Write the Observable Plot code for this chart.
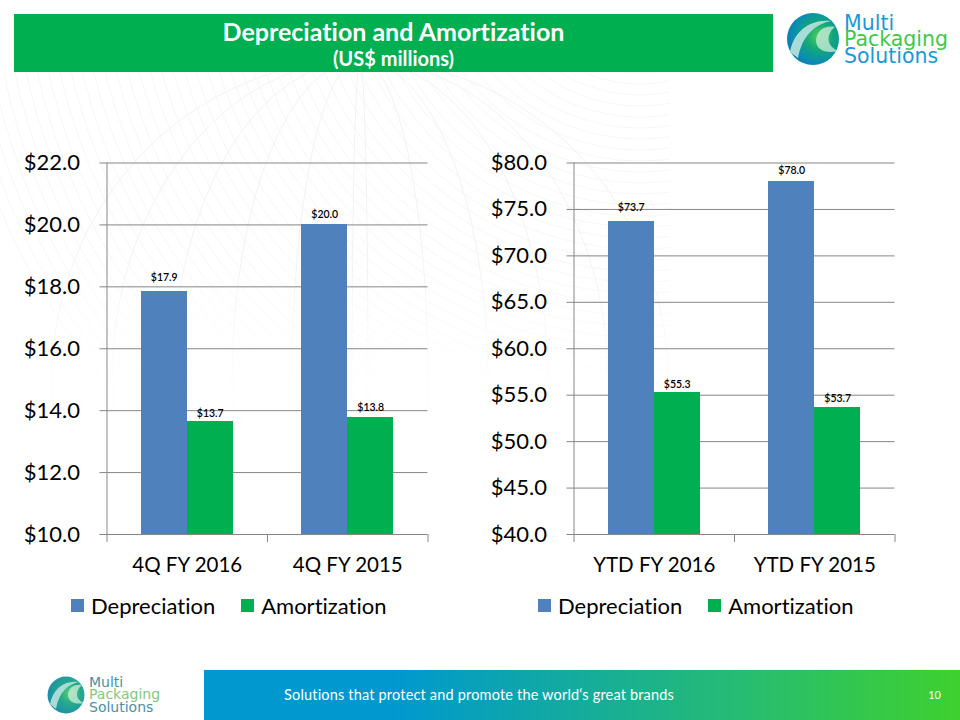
<!DOCTYPE html>
<html><head><meta charset="utf-8">
<script src="https://cdn.jsdelivr.net/npm/d3@7"></script>
<script src="https://cdn.jsdelivr.net/npm/@observablehq/plot@0.6"></script>
<style>
html,body{margin:0;padding:0;background:#fff}
#page{position:relative;width:960px;height:720px;overflow:hidden;font-family:Lato,sans-serif;color:#000;font-variant-ligatures:none}
#page>*{position:absolute}
#head{left:14px;top:14px;width:759px;height:58px;background:#00b050;color:#fff;text-align:center;font-weight:700}
#head .t{font-size:25px;line-height:28px;margin-top:3px}
#head .s{font-size:20px;line-height:24px;margin-top:1px}
#foot{left:204px;top:670px;width:756px;height:50px;background:linear-gradient(90deg,#0098cf 0%,#0098cf 25%,#27bd70 72%,#3fd02e 100%);color:#fff}
#foot .c{position:absolute;left:80px;top:16px;font-size:14.5px;letter-spacing:.18px}
#foot .n{position:absolute;right:19px;top:18px;font-size:11px}
.legend{display:flex;align-items:center;font-size:22px;height:26px}
.legend i{display:inline-block;width:13px;height:13px;margin-right:7px}
.legend span{margin-right:26px}
svg.plot text,svg text{font-variant-ligatures:none}
</style></head><body><div id="page">
<svg id="bg" width="960" height="720" style="left:0;top:0">
<defs><linearGradient id="fadeG" x1="0" y1="0" x2="0" y2="1"><stop offset="0" stop-color="#fff"/><stop offset=".45" stop-color="#fff"/><stop offset=".85" stop-color="#000"/></linearGradient>
<mask id="fade" maskUnits="userSpaceOnUse" x="0" y="72" width="670" height="400"><rect x="0" y="72" width="670" height="400" fill="url(#fadeG)"/></mask></defs>
<g mask="url(#fade)"><g id="arcs" fill="none" stroke="#f1f2f4" stroke-width="1"></g></g></svg>
<div id="head"><div class="t">Depreciation and Amortization</div><div class="s">(US$ millions)</div></div>
<div id="foot"><div class="c">Solutions that protect and promote the world‘s great brands</div><div class="n">10</div></div>
<svg id="logos" width="960" height="720" style="left:0;top:0">
<defs>
<radialGradient id="lg" cx=".62" cy=".45" r=".68"><stop offset="0" stop-color="#4fd05a"/><stop offset=".38" stop-color="#12a878"/><stop offset=".75" stop-color="#0a8cb4"/><stop offset="1" stop-color="#0b78a8"/></radialGradient>
<radialGradient id="lg2" cx=".62" cy=".45" r=".68"><stop offset="0" stop-color="#60d06c"/><stop offset=".4" stop-color="#24ac8a"/><stop offset="1" stop-color="#1c88b0"/></radialGradient>
</defs>
<g id="logoA" font-family="'DejaVu Sans',sans-serif">
<circle cx="813" cy="39" r="26" fill="url(#lg)"/>
<path d="M790 52C794 31 810 19 831 21C815 24 802 36 798 58Z" fill="#a9dcd6"/>
<path d="M816 40C817 30 825 25 835 27C829 31 823 44 838 51C826 54 816 50 816 40Z" fill="#c5ead9" opacity=".8"/>
<text x="844" y="30" font-size="20.5" fill="#1b98d5">Multi</text><text x="844" y="46" font-size="20.5" fill="#3fc84a">Packaging</text><text x="844" y="63" font-size="20.5" fill="#1b98d5">Solutions</text></g>
<g id="logoB" font-family="'DejaVu Sans',sans-serif">
<circle cx="66" cy="695" r="18.5" fill="url(#lg2)"/>
<path d="M50 704C53 689 64 680 79 682C68 684 59 692 56 709Z" fill="#a9dcd6"/>
<path d="M68 694C69 687 75 684 82 685C77 689 73 698 84 703C75 705 68 702 68 694Z" fill="#c5ead9" opacity=".8"/>
<text x="89" y="687" font-size="14" fill="#4a90a4">Multi</text><text x="89" y="699" font-size="14" fill="#82c87e">Packaging</text><text x="89" y="712" font-size="14" fill="#4a90a4">Solutions</text></g>
</svg>
<div id="chartA" style="left:0;top:0"></div><div id="chartB" style="left:467px;top:0"></div>
<div class="legend" style="left:71px;top:592px"><i style="background:#4f81bd"></i><span>Depreciation</span><i style="background:#00b050"></i><span>Amortization</span></div>
<div class="legend" style="left:538px;top:592px"><i style="background:#4f81bd"></i><span>Depreciation</span><i style="background:#00b050"></i><span>Amortization</span></div>
</div>
<script>
const seriesNames = ["Depreciation", "Amortization"];
const colors = ["#4f81bd", "#00b050"];
const quarterCategories = ["4Q FY 2016", "4Q FY 2015"];
const quarterDepreciation = [17.85, 20.0];
const quarterAmortization = [13.65, 13.78];
const quarterLabels = [["$17.9", "$20.0"], ["$13.7", "$13.8"]];
const quarterTicks = [10, 12, 14, 16, 18, 20, 22];
const ytdCategories = ["YTD FY 2016", "YTD FY 2015"];
const ytdDepreciation = [73.7, 78.0];
const ytdAmortization = [55.3, 53.7];
const ytdLabels = [["$73.7", "$78.0"], ["$55.3", "$53.7"]];
const ytdTicks = [40, 45, 50, 55, 60, 65, 70, 75, 80];
// how far each value label sits above its bar, as placed in the original
const quarterLabelGaps = [[14, 10], [8, 10]];
const ytdLabelGaps = [[14, 11], [8, 9]];

// faint decorative globe behind the charts
const arcs = d3.select("#arcs");
for (let r = 40; r <= 640; r += 11) arcs.append("circle").attr("cx", 640).attr("cy", -60).attr("r", r + 60).attr("opacity", 0.7);
for (let k = 0; k <= 5; k++) arcs.append("ellipse").attr("cx", 360).attr("cy", 380).attr("rx", k * 60 + 8).attr("ry", 320);

function chart(cats, dep, amo, labels, gaps, ticks) {
  const bw = 0.2866, start = 0.2134;
  const rows = [];
  [dep, amo].forEach((vals, s) => vals.forEach((v, i) => rows.push({
    x1: i + start + s * bw, x2: i + start + (s + 1) * bw, xm: i + start + (s + .5) * bw,
    v, s: seriesNames[s], label: labels[s][i], gap: gaps[s][i]
  })));
  const line = "#868686";
  const labelMarks = d3.rollups(rows, g => g, d => d.gap).map(([gap, g]) =>
    Plot.text(g, {x: "xm", y: "v", text: "label", dy: -gap, fontSize: 10.5, fontWeight: 600, fill: "#000"}));
  return Plot.plot({
    width: 440, height: 600,
    marginLeft: 106.5, marginRight: 12.5, marginTop: 162.5, marginBottom: 66,
    x: {domain: [0, 2], axis: null},
    y: {domain: [ticks[0], ticks[ticks.length - 1]], axis: null},
    color: {domain: seriesNames, range: colors},
    style: {background: "transparent", overflow: "visible", fontFamily: "Lato,sans-serif"},
    marks: [
      Plot.ruleY(ticks, {x1: -0.0436, x2: 2, stroke: line, strokeWidth: 1}),
      Plot.ruleX([0], {stroke: line}),
      Plot.rectY(rows, {x1: "x1", x2: "x2", y1: ticks[0], y2: "v", fill: "s", shapeRendering: "crispEdges"}),
      ...labelMarks,
      Plot.axisX([0, 1, 2], {anchor: "bottom", tickSize: 8, tickFormat: () => "", stroke: line, label: null}),
      Plot.axisX([0.5, 1.5], {anchor: "bottom", tickSize: 0, tickPadding: 23, tickFormat: d => cats[Math.floor(d)], fontSize: 20.5, fill: "#000", label: null}),
      Plot.axisY(ticks, {anchor: "left", tickSize: 0, tickPadding: 27, tickFormat: d => "$" + d.toFixed(1), fontSize: 22, fill: "#000", label: null})
    ]
  });
}
document.getElementById("chartA").append(chart(quarterCategories, quarterDepreciation, quarterAmortization, quarterLabels, quarterLabelGaps, quarterTicks));
document.getElementById("chartB").append(chart(ytdCategories, ytdDepreciation, ytdAmortization, ytdLabels, ytdLabelGaps, ytdTicks));
</script></body></html>
